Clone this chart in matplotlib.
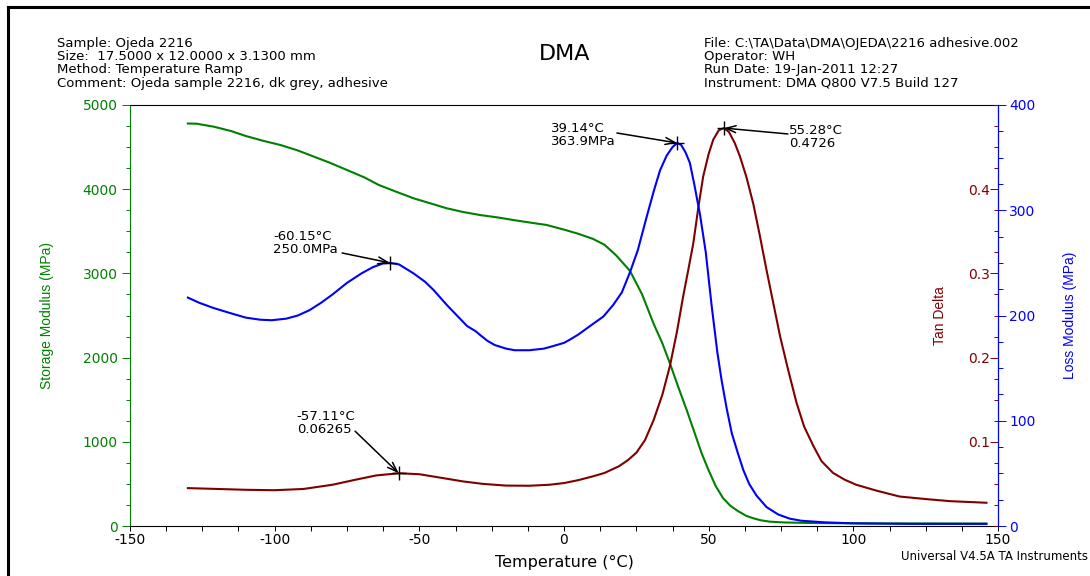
"""DMA temperature ramp: storage modulus, loss modulus and tan delta."""

import matplotlib

matplotlib.use("Agg")
import matplotlib.pyplot as plt
from matplotlib.lines import Line2D
from matplotlib.ticker import FixedLocator, MultipleLocator

plt.rcParams["font.family"] = ["DejaVu Sans"]
plt.rcParams["axes.unicode_minus"] = False
NARROW = "Liberation Sans"

GREEN = "#008000"
DARK_RED = "#800000"
BLUE = "#0000FF"

# storage modulus (MPa)
storage_temp = [-130, -127, -121, -115, -110, -104, -98, -92, -87, -81, -75, -69,
                -64, -58, -52, -46, -40.5, -35, -29, -23, -17.5, -12, -6, 0, 5,
                10, 14, 18, 22.8, 27, 31, 34, 36.6, 39.5, 42.4, 45, 47.5, 50,
                52.5, 55, 57.5, 60, 63, 65.5, 68, 71, 76, 85, 95, 110, 130, 146]
storage_mpa = [4780, 4778, 4742, 4690, 4632, 4575, 4525, 4460, 4394, 4315, 4228, 4140,
               4050, 3970, 3892, 3830, 3773, 3730, 3693, 3665, 3634, 3605, 3575, 3520, 3470,
               3410, 3340, 3215, 3030, 2750, 2400, 2170, 1932, 1650, 1378, 1120, 870, 660,
               470, 330, 240, 180, 120, 91, 68, 52, 42, 36, 33, 31, 30, 29]

# tan delta
tan_temp = [-130, -120, -110, -100, -90, -80, -72, -65, -57.11, -50, -42, -35, -28,
            -20, -12, -5, 0, 5, 10, 14, 19, 22, 25, 28, 31, 34, 36.6, 39, 41.2, 43,
            44.7, 46.5, 48.1, 50, 51.6, 53.5, 55.28, 57, 59, 60.8, 63, 65.4, 67.5,
            70, 72.5, 74.7, 77.5, 80.4, 83, 86.2, 89, 93, 97, 101, 108, 116, 125,
            133.4, 146]
tan_delta = [0.0450, 0.0440, 0.0430, 0.0425, 0.0440, 0.0490, 0.0550, 0.0600, 0.06265,
             0.0615, 0.0570, 0.0530, 0.0500, 0.0480, 0.0478, 0.0490, 0.0510, 0.0545,
             0.0590, 0.0630, 0.0710, 0.0780, 0.0870, 0.1020, 0.1260, 0.1560, 0.1900,
             0.2300, 0.2730, 0.3050, 0.3360, 0.3800, 0.4150, 0.4420, 0.4590, 0.4700,
             0.4726, 0.4680, 0.4550, 0.4390, 0.4150, 0.3830, 0.3480, 0.3040, 0.2620,
             0.2250, 0.1850, 0.1460, 0.1180, 0.0950, 0.0770, 0.0630, 0.0550, 0.0490,
             0.0420, 0.0350, 0.0320, 0.0295, 0.0276]

# loss modulus (MPa)
loss_temp = [-130, -126, -121, -115, -110, -105, -101, -96, -92, -88, -84, -80, -75,
             -70, -66, -62.5, -60.15, -57, -52, -48, -45, -40.5, -37, -33.5, -30.5,
             -29, -26.5, -24, -20, -17, -12, -7, -3.7, 0, 2, 5, 9, 13.6, 17, 20, 22.8,
             25.5, 28.6, 31, 33.2, 35.5, 37.5, 39.14, 40.5, 42, 43.5, 45, 47, 49, 51,
             53, 54.5, 56.2, 58, 60, 62, 64, 66.5, 70, 74, 78, 82, 90, 100, 120, 146]
loss_mpa = [217, 212, 207, 202, 198, 196, 195.5, 197, 200, 205, 212, 220, 231,
            240, 246, 249.5, 250.0, 248.5, 240, 232, 224, 210, 200, 190, 185,
            181.5, 176, 172, 168.5, 167, 167, 168.5, 171, 174, 177, 182, 190, 199, 210,
            222, 241, 262, 294, 318, 338, 352, 360, 363.9, 362, 355, 345, 325, 296,
            260, 210, 165, 138, 112, 88, 70, 53, 40, 29, 18, 11, 7, 5, 3.5, 2.5, 2, 2]

# labelled peaks: (temperature, value)
loss_peaks = [(-60.15, 250.0), (39.14, 363.9)]
tan_peaks = [(-57.11, 0.06265), (55.28, 0.4726)]

header_left = [
    "Sample: Ojeda 2216",
    "Size:  17.5000 x 12.0000 x 3.1300 mm",
    "Method: Temperature Ramp",
    "Comment: Ojeda sample 2216, dk grey, adhesive",
]
header_right = [
    "File: C:\\TA\\Data\\DMA\\OJEDA\\2216 adhesive.002",
    "Operator: WH",
    "Run Date: 19-Jan-2011 12:27",
    "Instrument: DMA Q800 V7.5 Build 127",
]

W, H = 1090, 576
fig = plt.figure(figsize=(W / 100, H / 100), dpi=100)
ax = fig.add_axes([130 / W, 50 / H, 868 / W, 421 / H])
ax_tan = ax.twinx()
ax_loss = ax.twinx()

ax.plot(storage_temp, storage_mpa, color=GREEN, lw=1.5)
ax_tan.plot(tan_temp, tan_delta, color=DARK_RED, lw=1.5)
ax_loss.plot(loss_temp, loss_mpa, color=BLUE, lw=1.5)

ax.set_xlim(-150, 150)
ax.set_ylim(0, 5000)
ax_tan.set_ylim(0, 0.5)
ax_loss.set_ylim(0, 400)

# spines
for side in ("top", "bottom"):
    ax.spines[side].set_color("black")
    ax.spines[side].set_linewidth(0.8)
ax.spines["left"].set_color(GREEN)
ax.spines["left"].set_linewidth(0.8)
ax.spines["right"].set_visible(False)
for spine in ax_tan.spines.values():
    spine.set_visible(False)
for side in ("left", "top", "bottom"):
    ax_loss.spines[side].set_visible(False)
ax_loss.spines["right"].set_color(BLUE)
ax_loss.spines["right"].set_linewidth(0.9)

# x axis
ax.xaxis.set_major_locator(MultipleLocator(50))
ax.xaxis.set_minor_locator(MultipleLocator(12.5))
ax.tick_params(axis="x", which="both", direction="out", length=3.5, width=0.7,
               labelsize=10, pad=1.5)
ax.set_xlabel("Temperature (°C)", fontsize=11.5)
ax.xaxis.set_label_coords(0.5, -0.07)

# storage modulus axis
ax.yaxis.set_major_locator(MultipleLocator(1000))
ax.yaxis.set_minor_locator(MultipleLocator(250))
ax.tick_params(axis="y", which="both", colors=GREEN, width=0.7, labelsize=10, pad=3)
ax.tick_params(axis="y", which="major", length=6)
ax.tick_params(axis="y", which="minor", length=3)
ax.set_ylabel("Storage Modulus (MPa)", color=GREEN, fontsize=10, family=NARROW)
ax.yaxis.set_label_coords(-0.088, 0.5)

# tan delta axis, ticks and labels inside the right spine
ax_tan.yaxis.set_major_locator(FixedLocator([0.1, 0.2, 0.3, 0.4]))
ax_tan.yaxis.set_minor_locator(MultipleLocator(0.025))
ax_tan.tick_params(axis="y", which="both", direction="in", colors=DARK_RED,
                   width=0.7, labelsize=10, pad=-6)
ax_tan.tick_params(axis="y", which="major", length=5.5)
ax_tan.tick_params(axis="y", which="minor", length=3)
for tick in ax_tan.yaxis.get_major_ticks():
    tick.label2.set_horizontalalignment("right")
ax_tan.set_ylabel("Tan Delta", color=DARK_RED, fontsize=10, family=NARROW)
ax_tan.yaxis.set_label_coords(0.925, 0.5)

# loss modulus axis
ax_loss.yaxis.set_major_locator(MultipleLocator(100))
ax_loss.yaxis.set_minor_locator(MultipleLocator(25))
ax_loss.tick_params(axis="y", which="both", direction="out", colors=BLUE,
                    width=0.7, labelsize=10, pad=2)
ax_loss.tick_params(axis="y", which="major", length=6)
ax_loss.tick_params(axis="y", which="minor", length=3.5)
ax_loss.set_ylabel("Loss Modulus (MPa)", color=BLUE, fontsize=10, family=NARROW)
ax_loss.yaxis.set_label_coords(1.075, 0.5)

# peak labels
arrow = dict(arrowstyle="->,head_length=0.7,head_width=0.25", color="black",
             lw=1.1, shrinkA=0, shrinkB=0)
loss_layout = [((-100.6, 281), (-76.7, 259.4)), ((-4.5, 384), (18.3, 373.4))]
for (t, v), (text_xy, tail_xy) in zip(loss_peaks, loss_layout):
    ax_loss.plot(t, v, marker="+", color="black", ms=10, mew=1)
    ax_loss.annotate("", xy=(t, v), xytext=tail_xy, arrowprops=arrow)
    ax_loss.text(*text_xy, f"{t:.2f}°C\n{v:.1f}MPa", fontsize=9.5, va="top",
                 ha="left", linespacing=1.0)

tan_layout = [((-92.4, 0.138), (-72.2, 0.1126)), ((77.8, 0.477), (77.4, 0.4656))]
for (t, v), (text_xy, tail_xy) in zip(tan_peaks, tan_layout):
    ax_tan.plot(t, v, marker="+", color="black", ms=10, mew=1)
    ax_tan.annotate("", xy=(t, v), xytext=tail_xy, arrowprops=arrow)
    ax_tan.text(*text_xy, f"{t:.2f}°C\n{v:.4g}", fontsize=9.5, va="top",
                ha="left", linespacing=1.0)

# header block
for i, line in enumerate(header_left):
    fig.text(57 / W, 1 - (43 + 13.4 * i) / H, line, fontsize=9.5, va="center")
for i, line in enumerate(header_right):
    fig.text(704 / W, 1 - (43 + 13.4 * i) / H, line, fontsize=9.5, va="center")
fig.text(565 / W, 1 - 54 / H, "DMA", fontsize=16, ha="center", va="center")
fig.text(1088 / W, 1 - 556 / H, "Universal V4.5A TA Instruments", fontsize=8.5,
         ha="right", va="center")

# page frame (left and top edges visible)
fig.add_artist(Line2D([8 / W, 8 / W], [0, 1 - 7 / H], color="black", lw=2.2))
fig.add_artist(Line2D([8 / W, 1], [1 - 7 / H, 1 - 7 / H], color="black", lw=2.2))

fig.savefig("out.png", dpi=100)
